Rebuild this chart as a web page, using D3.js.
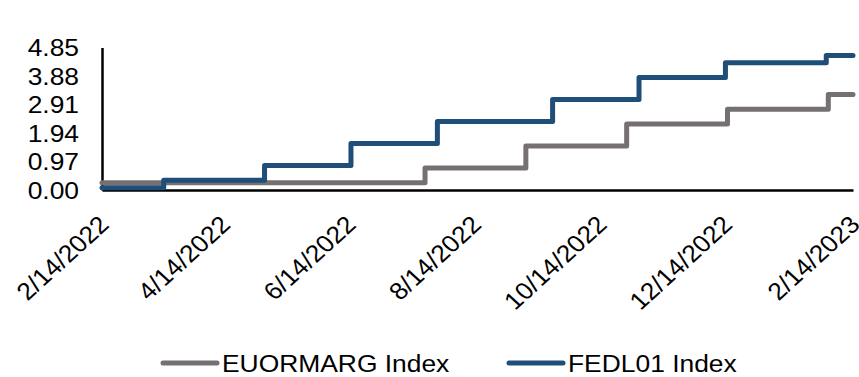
<!DOCTYPE html>
<html>
<head>
<meta charset="utf-8">
<script src="https://cdn.jsdelivr.net/npm/d3@7"></script>
<style>
  body { margin: 0; background: #fff; }
  text { font-family: "Liberation Sans", Arial, sans-serif; fill: #000; }
</style>
</head>
<body>
<div id="viz_container"></div>
<script>
// series data (step changes)
const fedDates = ["2022-02-14", "2022-03-16", "2022-05-04", "2022-06-15", "2022-07-27", "2022-09-21", "2022-11-02", "2022-12-14", "2023-02-01", "2023-02-14"];
const fedValues = [0.08, 0.33, 0.83, 1.58, 2.33, 3.08, 3.83, 4.33, 4.58, 4.58];
const ecbDates = ["2022-02-14", "2022-07-21", "2022-09-08", "2022-10-27", "2022-12-15", "2023-02-02", "2023-02-14"];
const ecbValues = [0.25, 0.75, 1.50, 2.25, 2.75, 3.25, 3.25];
const seriesNames = ["EUORMARG Index", "FEDL01 Index"];
const yTicks = [0, 0.97, 1.94, 2.91, 3.88, 4.85];
const xTickLabels = ["2022-02-14", "2022-04-14", "2022-06-14", "2022-08-14", "2022-10-14", "2022-12-14", "2023-02-14"];

var drawChart = () => {
  const width = 859,
  height = 377;
  const svg = d3.select("#viz_container")
    .append("svg")
    .attr("width", width)
    .attr("height", height);

  const parse = d3.timeParse("%Y-%m-%d");
  const sx = 1.1; // text looks a bit stretched sideways

  // scales
  const x = d3.scaleTime()
    .domain([parse("2022-02-14"), parse("2023-02-14")])
    .range([102, 853]);
  const y = d3.scaleLinear()
    .domain([0, 4.85])
    .range([190, 47.5]);

  const ecb = ecbDates.map((d, i) => ({date: parse(d), value: ecbValues[i]}));
  const fed = fedDates.map((d, i) => ({date: parse(d), value: fedValues[i]}));

  const colors = ["#767171", "#1F4E79"];

  // y axis
  const yAxis = svg.append("g")
    .attr("transform", "translate(102,0)")
    .call(d3.axisLeft(y).tickValues(yTicks).tickSize(0).tickSizeOuter(0).tickFormat(d3.format(".2f")));
  yAxis.select(".domain").attr("stroke", "#000").attr("stroke-width", 2.5);
  yAxis.selectAll("text")
    .attr("x", null)
    .attr("dy", "0.35em")
    .attr("transform", `translate(-23,0) scale(${sx},1)`)
    .style("font-size", "24px")
    .style("font-family", "'Liberation Sans', Arial, sans-serif");

  // x axis
  const xAxis = svg.append("g")
    .attr("transform", "translate(0,190)")
    .call(d3.axisBottom(x).tickValues(xTickLabels.map(parse)).tickSize(0).tickSizeOuter(0)
      .tickFormat(d3.timeFormat("%-m/%-d/%Y")));
  xAxis.select(".domain").attr("stroke", "#000").attr("stroke-width", 2.5);
  xAxis.selectAll("text")
    .attr("y", null)
    .attr("dy", null)
    .style("text-anchor", "end")
    .attr("transform", `translate(8,36) scale(${sx},1) rotate(-45)`)
    .style("font-size", "24px")
    .style("font-family", "'Liberation Sans', Arial, sans-serif");

  // lines
  const line = d3.line()
    .x(d => x(d.date))
    .y(d => y(d.value))
    .curve(d3.curveStepAfter);

  svg.append("g")
    .selectAll("path")
    .data([ecb, fed])
    .join("path")
    .attr("d", line)
    .attr("fill", "none")
    .attr("stroke", (d, i) => colors[i])
    .attr("stroke-width", 5)
    .attr("stroke-linejoin", "round")
    .attr("stroke-linecap", "round");

  // legend
  const legendX = [163, 509];
  const legend = svg.append("g")
    .selectAll("g")
    .data(seriesNames)
    .join("g")
    .attr("transform", (d, i) => `translate(${legendX[i]},363)`);
  legend.append("line")
    .attr("x1", 0)
    .attr("x2", 54)
    .attr("stroke", (d, i) => colors[i])
    .attr("stroke-width", 5)
    .attr("stroke-linecap", "round");
  legend.append("text")
    .attr("transform", `translate(59,9) scale(${sx},1)`)
    .style("font-size", "24px")
    .text(d => d);
}

drawChart();
</script>
</body>
</html>
